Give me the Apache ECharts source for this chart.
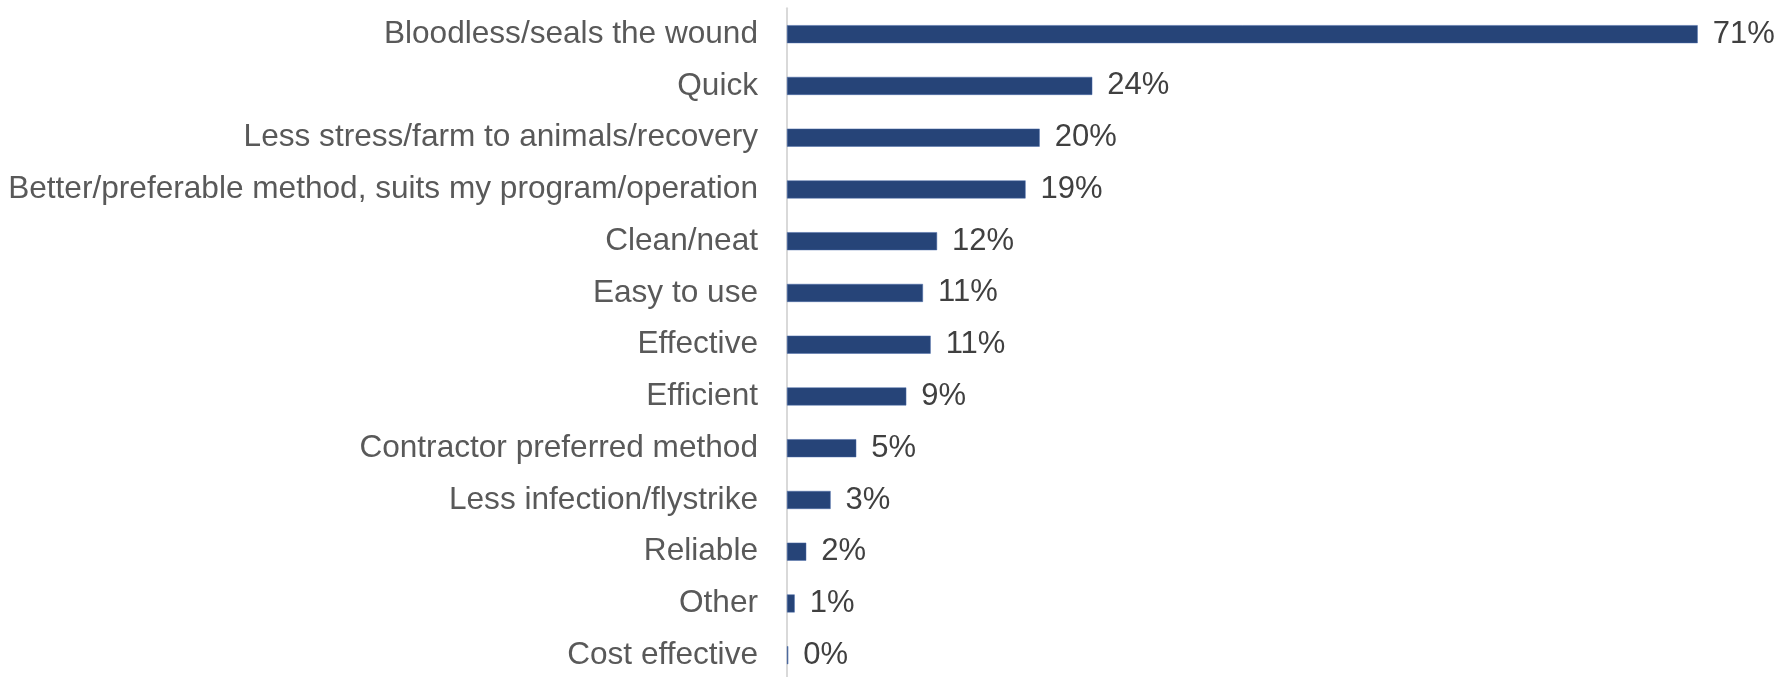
<!DOCTYPE html>
<html>
<head>
<meta charset="utf-8">
<script src="https://cdn.jsdelivr.net/npm/echarts@6/dist/echarts.min.js"></script>
<style>html,body{margin:0;padding:0;background:#fff}#c{width:1777px;height:677px}</style>
</head>
<body>
<div id="c"></div>
<script>
const categories = [
  "Bloodless/seals the wound",
  "Quick",
  "Less stress/farm to animals/recovery",
  "Better/preferable method, suits my program/operation",
  "Clean/neat",
  "Easy to use",
  "Effective",
  "Efficient",
  "Contractor preferred method",
  "Less infection/flystrike",
  "Reliable",
  "Other",
  "Cost effective"
];
const values = [71, 23.8, 19.7, 18.6, 11.7, 10.6, 11.2, 9.3, 5.4, 3.4, 1.5, 0.6, 0.1];
const valueLabels = ["71%", "24%", "20%", "19%", "12%", "11%", "11%", "9%", "5%", "3%", "2%", "1%", "0%"];

const chart = echarts.init(document.getElementById('c'));
chart.setOption({
  animation: false,
  grid: { left: 787, right: 28, top: 8.3, bottom: -4.1, containLabel: false, outerBoundsMode: 'none' },
  xAxis: {
    type: 'value', min: 0, max: 75,
    show: false
  },
  yAxis: {
    type: 'category', inverse: true, data: categories,
    axisLine: { show: true, lineStyle: { color: '#d9d9d9', width: 2 } },
    axisTick: { show: false },
    axisLabel: {
      margin: 29, color: '#595959', fontSize: 31.6,
      fontFamily: "'Liberation Sans', Arial, sans-serif"
    }
  },
  series: [{
    type: 'bar', data: values, barWidth: 18,
    itemStyle: { color: '#264478', borderColor: '#4a6aa8', borderWidth: 0.5 },
    label: {
      show: true, position: 'right', distance: 15,
      color: '#404040', fontSize: 31,
      fontFamily: "'Liberation Sans', Arial, sans-serif",
      formatter: function (p) { return valueLabels[p.dataIndex]; }
    }
  }]
});
</script>
</body>
</html>
